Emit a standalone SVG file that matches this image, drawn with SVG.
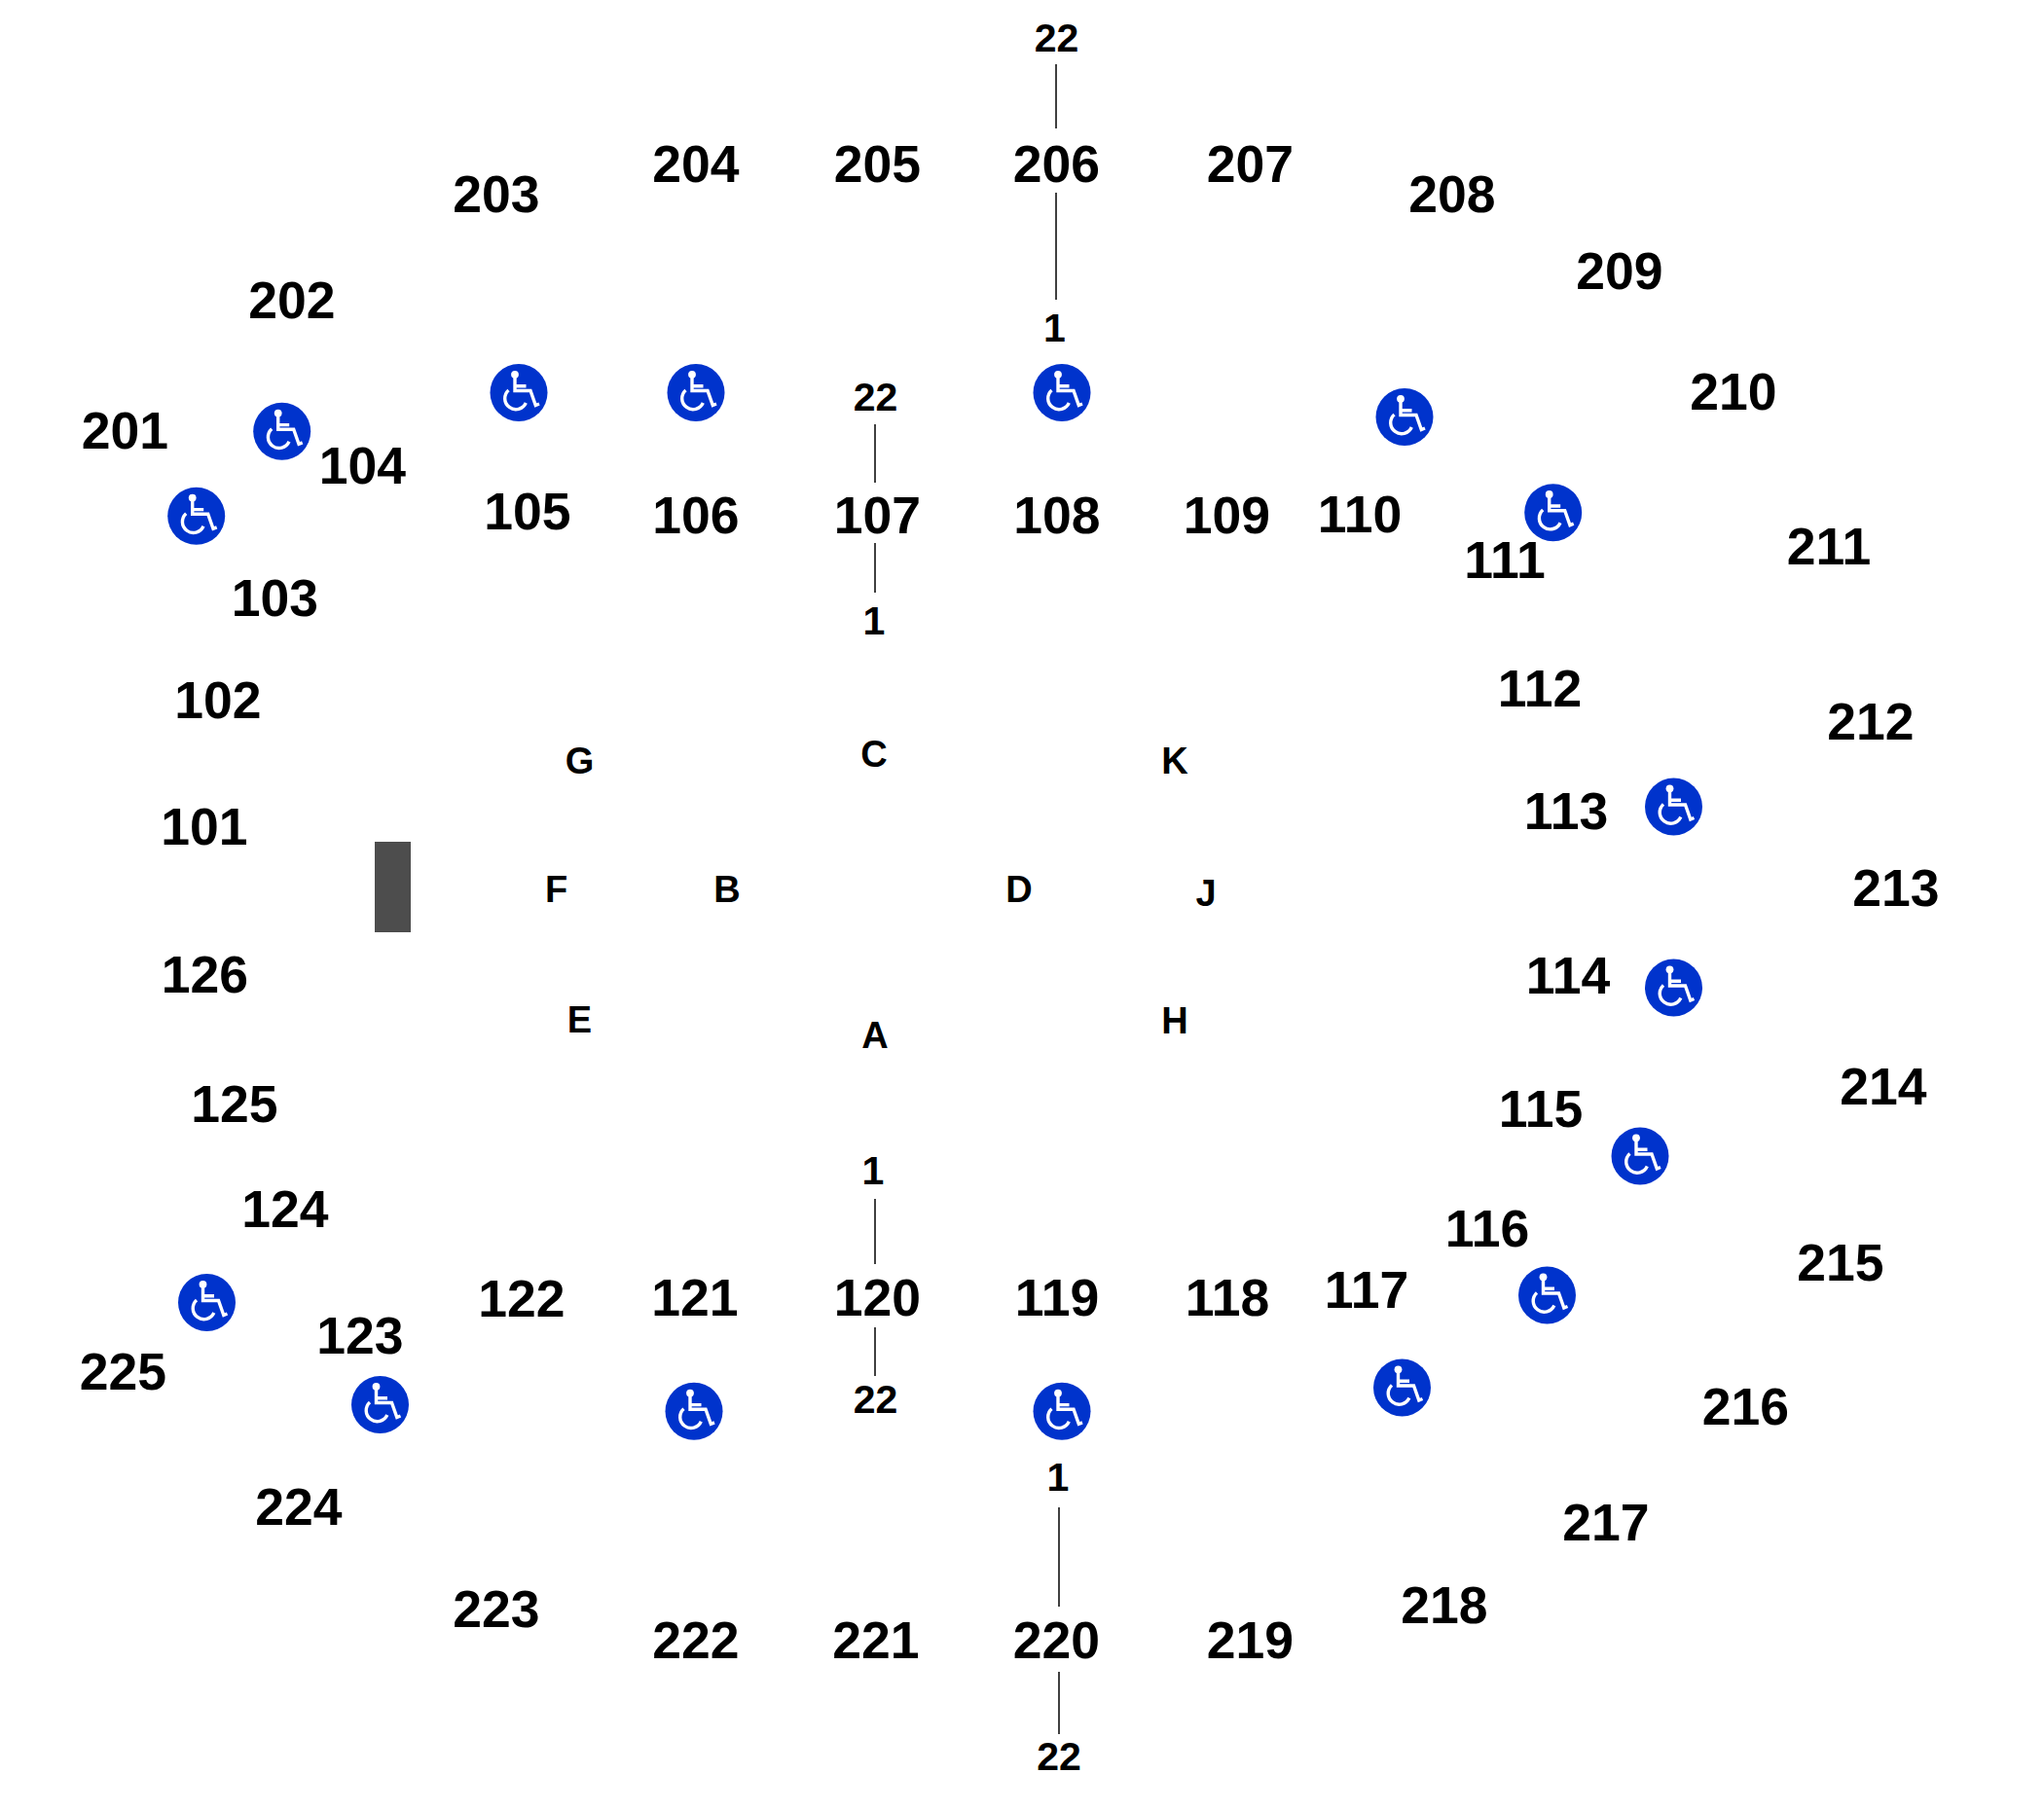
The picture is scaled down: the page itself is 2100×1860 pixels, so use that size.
<svg xmlns="http://www.w3.org/2000/svg" xmlns:xlink="http://www.w3.org/1999/xlink" width="2100" height="1860" viewBox="0 0 2100 1860">
<style>
text{font-family:"Liberation Sans",Arial,sans-serif;font-weight:700;fill:#000;text-anchor:middle}
.r{font-size:53.5px}.s{font-size:41px}.l{font-size:38px}
.c line{stroke:#000;stroke-width:1.5}
</style>
<defs>
<g id="wc">
<circle r="29.5" fill="#0033cc"/>
<circle cx="-4" cy="-18.7" r="3.9" fill="#fff"/>
<path d="M-4-16V-2H12L17.3 13 21 11.5M-4-6.7H7.5" fill="none" stroke="#fff" stroke-width="3.4"/>
<path d="M-10.5-2.6A11.3 11.3 0 1 0 7.3 10.5" fill="none" stroke="#fff" stroke-width="3.4"/>
</g>
</defs>
<rect width="2100" height="1860" fill="#fff"/>
<g id="connectors" class="c">
<line x1="1085" y1="66" x2="1085" y2="132"/>
<line x1="1085" y1="198" x2="1085" y2="308"/>
<line x1="899" y1="436" x2="899" y2="496"/>
<line x1="899" y1="558" x2="899" y2="609"/>
<line x1="899" y1="1232" x2="899" y2="1299"/>
<line x1="899" y1="1364" x2="899" y2="1414"/>
<line x1="1088" y1="1549" x2="1088" y2="1651"/>
<line x1="1088" y1="1718" x2="1088" y2="1782"/>
</g>
<rect id="block" x="385" y="865" width="37" height="93" fill="#4d4d4d"/>
<g id="n201"><text class="r" x="128.5" y="461">201</text></g>
<g id="n202"><text class="r" x="300" y="327">202</text></g>
<g id="n203"><text class="r" x="510" y="217.5">203</text></g>
<g id="n204"><text class="r" x="715" y="187">204</text></g>
<g id="n205"><text class="r" x="901.5" y="187">205</text></g>
<g id="n206"><text class="r" x="1085.5" y="187">206</text></g>
<g id="n207"><text class="r" x="1284.5" y="187">207</text></g>
<g id="n208"><text class="r" x="1492" y="217.5">208</text></g>
<g id="n209"><text class="r" x="1664" y="296.5">209</text></g>
<g id="n210"><text class="r" x="1781" y="421">210</text></g>
<g id="n211"><text class="r" x="1879" y="580">211</text></g>
<g id="n212"><text class="r" x="1922" y="760">212</text></g>
<g id="n213"><text class="r" x="1948" y="931">213</text></g>
<g id="n214"><text class="r" x="1935" y="1135">214</text></g>
<g id="n215"><text class="r" x="1891" y="1315.5">215</text></g>
<g id="n216"><text class="r" x="1793.5" y="1464">216</text></g>
<g id="n217"><text class="r" x="1650" y="1583">217</text></g>
<g id="n218"><text class="r" x="1484" y="1668">218</text></g>
<g id="n219"><text class="r" x="1284.5" y="1704">219</text></g>
<g id="n220"><text class="r" x="1085.5" y="1704">220</text></g>
<g id="n221"><text class="r" x="900" y="1704">221</text></g>
<g id="n222"><text class="r" x="715" y="1704">222</text></g>
<g id="n223"><text class="r" x="510" y="1672">223</text></g>
<g id="n224"><text class="r" x="307" y="1567">224</text></g>
<g id="n225"><text class="r" x="126.5" y="1428">225</text></g>
<g id="n101"><text class="r" x="210" y="868">101</text></g>
<g id="n102"><text class="r" x="224" y="738">102</text></g>
<g id="n103"><text class="r" x="282.5" y="633">103</text></g>
<g id="n104"><text class="r" x="372.5" y="497">104</text></g>
<g id="n105"><text class="r" x="542" y="544">105</text></g>
<g id="n106"><text class="r" x="715" y="548">106</text></g>
<g id="n107"><text class="r" x="901.5" y="548">107</text></g>
<g id="n108"><text class="r" x="1086" y="548">108</text></g>
<g id="n109"><text class="r" x="1260.5" y="548">109</text></g>
<g id="n110"><text class="r" x="1397" y="546.5">110</text></g>
<g id="n111"><text class="r" x="1546" y="593.5">111</text></g>
<g id="n112"><text class="r" x="1582" y="726">112</text></g>
<g id="n113"><text class="r" x="1609" y="852">113</text></g>
<g id="n114"><text class="r" x="1611" y="1021">114</text></g>
<g id="n115"><text class="r" x="1583" y="1157.5">115</text></g>
<g id="n116"><text class="r" x="1528" y="1281">116</text></g>
<g id="n117"><text class="r" x="1404" y="1344">117</text></g>
<g id="n118"><text class="r" x="1261" y="1352">118</text></g>
<g id="n119"><text class="r" x="1086" y="1352">119</text></g>
<g id="n120"><text class="r" x="901.5" y="1352">120</text></g>
<g id="n121"><text class="r" x="714" y="1352">121</text></g>
<g id="n122"><text class="r" x="536" y="1353">122</text></g>
<g id="n123"><text class="r" x="370" y="1391">123</text></g>
<g id="n124"><text class="r" x="293" y="1261">124</text></g>
<g id="n125"><text class="r" x="241" y="1153">125</text></g>
<g id="n126"><text class="r" x="210.5" y="1020">126</text></g>
<g id="t22a"><text class="s" x="1085.5" y="53">22</text></g>
<g id="t1a"><text class="s" x="1083.5" y="350.5">1</text></g>
<g id="t22b"><text class="s" x="899.5" y="422">22</text></g>
<g id="t1b"><text class="s" x="898" y="652">1</text></g>
<g id="t1c"><text class="s" x="897" y="1217">1</text></g>
<g id="t22c"><text class="s" x="899.5" y="1452">22</text></g>
<g id="t1d"><text class="s" x="1087" y="1532">1</text></g>
<g id="t22d"><text class="s" x="1088" y="1819">22</text></g>
<g id="G"><text class="l" x="595.5" y="795">G</text></g>
<g id="C"><text class="l" x="898" y="788">C</text></g>
<g id="K"><text class="l" x="1207" y="795">K</text></g>
<g id="F"><text class="l" x="571.5" y="927">F</text></g>
<g id="B"><text class="l" x="747" y="927">B</text></g>
<g id="D"><text class="l" x="1047" y="927">D</text></g>
<g id="J"><text class="l" x="1239" y="931">J</text></g>
<g id="E"><text class="l" x="595.5" y="1061">E</text></g>
<g id="A"><text class="l" x="899" y="1077">A</text></g>
<g id="H"><text class="l" x="1207" y="1062">H</text></g>
<g id="w1"><use href="#wc" x="289.7" y="443.3"/></g>
<g id="w2"><use href="#wc" x="201.7" y="530.3"/></g>
<g id="w3"><use href="#wc" x="533" y="403.5"/></g>
<g id="w4"><use href="#wc" x="715" y="403.5"/></g>
<g id="w5"><use href="#wc" x="1091" y="403.5"/></g>
<g id="w6"><use href="#wc" x="1443" y="428.5"/></g>
<g id="w7"><use href="#wc" x="1595.7" y="526.7"/></g>
<g id="w8"><use href="#wc" x="1719.5" y="829"/></g>
<g id="w9"><use href="#wc" x="1719.5" y="1015"/></g>
<g id="w10"><use href="#wc" x="1685" y="1188"/></g>
<g id="w11"><use href="#wc" x="1589.5" y="1331"/></g>
<g id="w12"><use href="#wc" x="1440.5" y="1426"/></g>
<g id="w13"><use href="#wc" x="1091" y="1450.3"/></g>
<g id="w14"><use href="#wc" x="713" y="1450.3"/></g>
<g id="w15"><use href="#wc" x="390.5" y="1443.5"/></g>
<g id="w16"><use href="#wc" x="212.5" y="1338.5"/></g>
</svg>
